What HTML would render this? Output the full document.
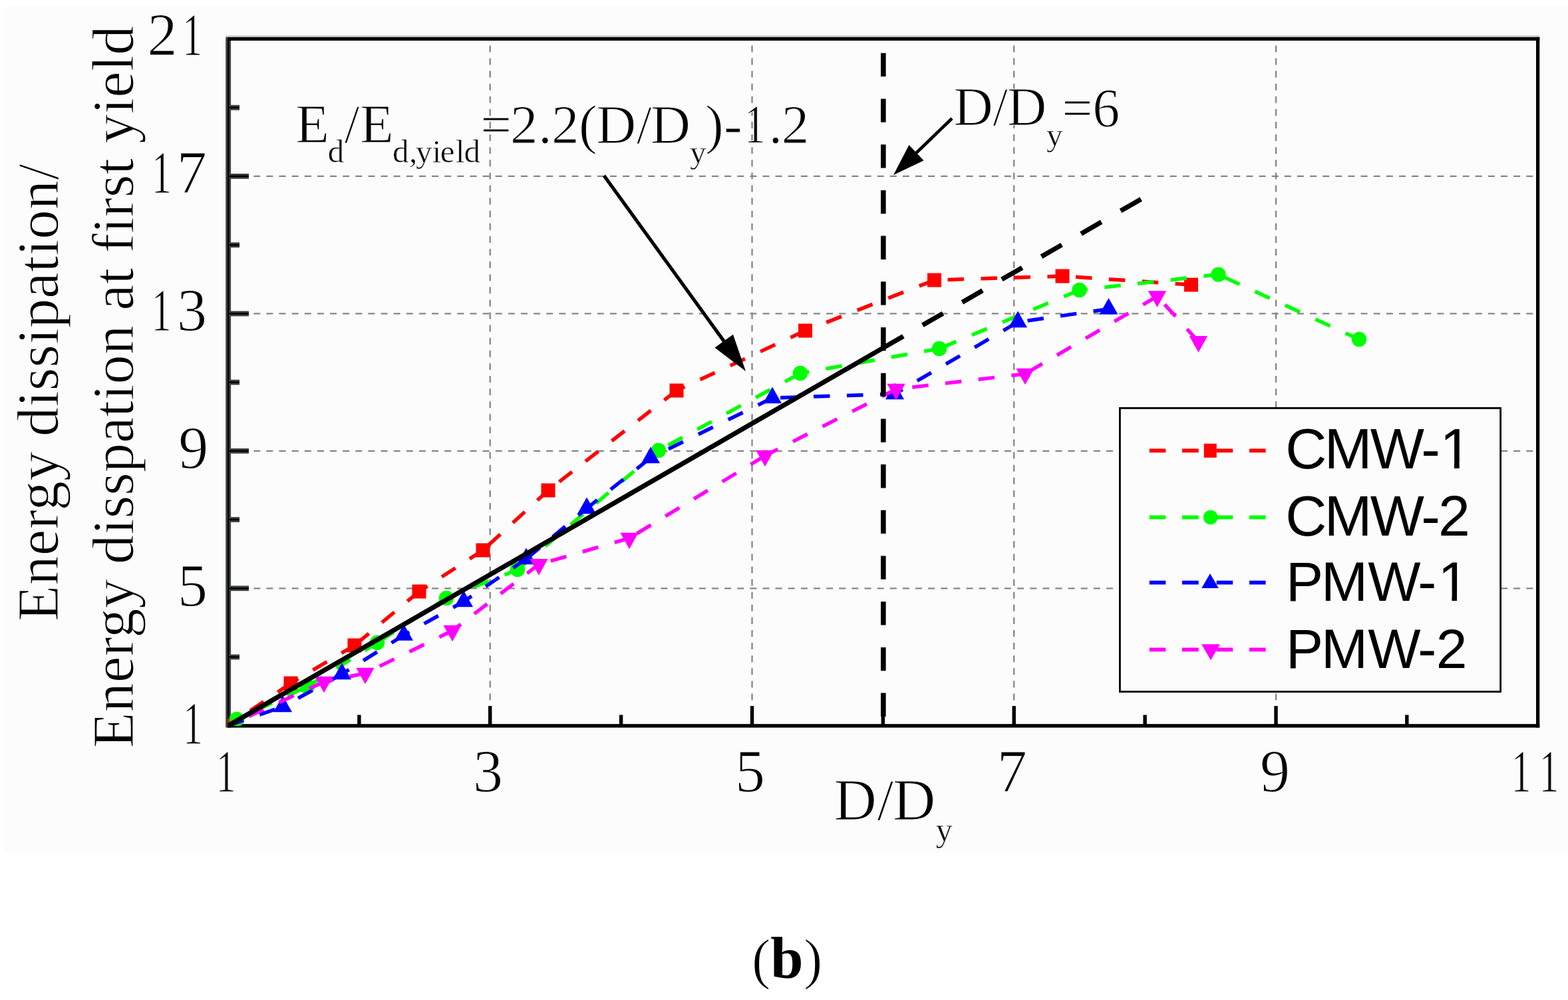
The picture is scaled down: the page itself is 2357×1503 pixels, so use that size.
<!DOCTYPE html>
<html><head><meta charset="utf-8"><title>Energy dissipation chart</title>
<style>
html,body{margin:0;padding:0;background:#fff;}
body{width:2357px;height:1503px;overflow:hidden;}
svg{display:block;}
.e{stroke:#fcfcfc;stroke-width:1.2px;}
.e2{stroke:#fcfcfc;stroke-width:0.6px;}
.e4{stroke:#fcfcfc;stroke-width:1.4px;}
.e3{stroke:#fff;stroke-width:1.2px;}
</style></head>
<body>
<svg width="2357" height="1503" viewBox="0 0 2357 1503">
<rect width="2357" height="1503" fill="#fff"/>
<rect x="6" y="9" width="2351" height="1272" fill="#fcfcfc"/>
<line x1="736.7" y1="1090.7" x2="736.7" y2="61" stroke="#858585" stroke-width="2.3" stroke-dasharray="10 9.1"/>
<line x1="1130.5" y1="1090.7" x2="1130.5" y2="61" stroke="#858585" stroke-width="2.3" stroke-dasharray="10 9.1"/>
<line x1="1524.2" y1="1090.7" x2="1524.2" y2="61" stroke="#858585" stroke-width="2.3" stroke-dasharray="10 9.1"/>
<line x1="1918.0" y1="1090.7" x2="1918.0" y2="61" stroke="#858585" stroke-width="2.3" stroke-dasharray="10 9.1"/>
<line x1="343" y1="884.3" x2="2309" y2="884.3" stroke="#858585" stroke-width="2.3" stroke-dasharray="10 9.13"/>
<line x1="343" y1="677.8" x2="2309" y2="677.8" stroke="#858585" stroke-width="2.3" stroke-dasharray="10 9.13"/>
<line x1="343" y1="471.4" x2="2309" y2="471.4" stroke="#858585" stroke-width="2.3" stroke-dasharray="10 9.13"/>
<line x1="343" y1="264.9" x2="2309" y2="264.9" stroke="#858585" stroke-width="2.3" stroke-dasharray="10 9.13"/>
<rect x="339.2" y="56" width="7.9" height="1037.5" fill="#3f4340"/>
<rect x="342" y="56" width="2.5" height="1037.5" fill="#000"/>
<rect x="339.2" y="53.4" width="1975" height="2.6" fill="#c4c4c4"/>
<rect x="342" y="55.9" width="1972.3" height="5.2" fill="#000"/>
<rect x="342" y="1088.2" width="1972.3" height="5.4" fill="#000"/>
<rect x="2309" y="55.9" width="5.3" height="1037.7" fill="#000"/>
<rect x="344" y="983.6" width="16" height="7.8" fill="#3c4046"/>
<rect x="344" y="986.2" width="16" height="2.6" fill="#000"/>
<rect x="344" y="880.4" width="30" height="7.8" fill="#3c4046"/>
<rect x="344" y="883.0" width="30" height="2.6" fill="#000"/>
<rect x="344" y="777.1" width="16" height="7.8" fill="#3c4046"/>
<rect x="344" y="779.7" width="16" height="2.6" fill="#000"/>
<rect x="344" y="673.9" width="30" height="7.8" fill="#3c4046"/>
<rect x="344" y="676.5" width="30" height="2.6" fill="#000"/>
<rect x="344" y="570.7" width="16" height="7.8" fill="#3c4046"/>
<rect x="344" y="573.3" width="16" height="2.6" fill="#000"/>
<rect x="344" y="467.5" width="30" height="7.8" fill="#3c4046"/>
<rect x="344" y="470.1" width="30" height="2.6" fill="#000"/>
<rect x="344" y="364.3" width="16" height="7.8" fill="#3c4046"/>
<rect x="344" y="366.9" width="16" height="2.6" fill="#000"/>
<rect x="344" y="261.0" width="30" height="7.8" fill="#3c4046"/>
<rect x="344" y="263.6" width="30" height="2.6" fill="#000"/>
<rect x="344" y="157.8" width="16" height="7.8" fill="#3c4046"/>
<rect x="344" y="160.4" width="16" height="2.6" fill="#000"/>
<rect x="537.2" y="1074.5" width="5.4" height="14.5" fill="#000"/>
<rect x="734.0" y="1061.1" width="5.4" height="27.9" fill="#000"/>
<rect x="930.9" y="1074.5" width="5.4" height="14.5" fill="#000"/>
<rect x="1127.8" y="1061.1" width="5.4" height="27.9" fill="#000"/>
<rect x="1324.6" y="1074.5" width="5.4" height="14.5" fill="#000"/>
<rect x="1521.5" y="1061.1" width="5.4" height="27.9" fill="#000"/>
<rect x="1718.4" y="1074.5" width="5.4" height="14.5" fill="#000"/>
<rect x="1915.3" y="1061.1" width="5.4" height="27.9" fill="#000"/>
<rect x="2112.1" y="1074.5" width="5.4" height="14.5" fill="#000"/>
<defs><clipPath id="pc"><rect x="342" y="58" width="1970" height="1033"/></clipPath></defs>
<g clip-path="url(#pc)">
<line x1="343" y1="1090.7" x2="437" y2="1027.0" stroke="#ff0000" stroke-width="5.5" stroke-dasharray="24.5 25.5" stroke-dashoffset="10.10"/>
<line x1="437" y1="1027.0" x2="533" y2="970.0" stroke="#ff0000" stroke-width="5.5" stroke-dasharray="24.5 25.5" stroke-dashoffset="11.20"/>
<line x1="533" y1="970.0" x2="630" y2="889.0" stroke="#ff0000" stroke-width="5.5" stroke-dasharray="24.5 25.5" stroke-dashoffset="46.50"/>
<line x1="630" y1="889.0" x2="726" y2="827.0" stroke="#ff0000" stroke-width="5.5" stroke-dasharray="24.5 25.5" stroke-dashoffset="9.50"/>
<line x1="726" y1="827.0" x2="824" y2="737.0" stroke="#ff0000" stroke-width="5.5" stroke-dasharray="24.5 25.5" stroke-dashoffset="39.00"/>
<line x1="824" y1="737.0" x2="1017" y2="587.0" stroke="#ff0000" stroke-width="5.5" stroke-dasharray="24.5 25.5" stroke-dashoffset="29.00"/>
<line x1="1017" y1="587.0" x2="1210.5" y2="497.0" stroke="#ff0000" stroke-width="5.5" stroke-dasharray="24.5 25.5" stroke-dashoffset="11.00"/>
<line x1="1210.5" y1="497.0" x2="1404.5" y2="421.0" stroke="#ff0000" stroke-width="5.5" stroke-dasharray="24.5 25.5" stroke-dashoffset="16.00"/>
<line x1="1404.5" y1="421.0" x2="1597" y2="415.0" stroke="#ff0000" stroke-width="5.5" stroke-dasharray="24.5 25.5" stroke-dashoffset="30.00"/>
<line x1="1597" y1="415.0" x2="1790.5" y2="428.0" stroke="#ff0000" stroke-width="5.5" stroke-dasharray="24.5 25.5" stroke-dashoffset="30.00"/>
<rect x="332.5" y="1080.2" width="21" height="21" fill="#ff0000"/>
<rect x="426.5" y="1016.5" width="21" height="21" fill="#ff0000"/>
<rect x="522.5" y="959.5" width="21" height="21" fill="#ff0000"/>
<rect x="619.5" y="878.5" width="21" height="21" fill="#ff0000"/>
<rect x="715.5" y="816.5" width="21" height="21" fill="#ff0000"/>
<rect x="813.5" y="726.5" width="21" height="21" fill="#ff0000"/>
<rect x="1006.5" y="576.5" width="21" height="21" fill="#ff0000"/>
<rect x="1200.0" y="486.5" width="21" height="21" fill="#ff0000"/>
<rect x="1394.0" y="410.5" width="21" height="21" fill="#ff0000"/>
<rect x="1586.5" y="404.5" width="21" height="21" fill="#ff0000"/>
<rect x="1780.0" y="417.5" width="21" height="21" fill="#ff0000"/>
<line x1="343" y1="1090.7" x2="356" y2="1081.0" stroke="#00ff00" stroke-width="5.5" stroke-dasharray="24.5 25.5" stroke-dashoffset="0.00"/>
<line x1="356" y1="1081.0" x2="462" y2="1032.0" stroke="#00ff00" stroke-width="5.5" stroke-dasharray="24.5 25.5" stroke-dashoffset="16.22"/>
<line x1="462" y1="1032.0" x2="567" y2="966.0" stroke="#00ff00" stroke-width="5.5" stroke-dasharray="24.5 25.5" stroke-dashoffset="48.00"/>
<line x1="567" y1="966.0" x2="671" y2="899.0" stroke="#00ff00" stroke-width="5.5" stroke-dasharray="24.5 25.5" stroke-dashoffset="45.20"/>
<line x1="671" y1="899.0" x2="778" y2="856.0" stroke="#00ff00" stroke-width="5.5" stroke-dasharray="24.5 25.5" stroke-dashoffset="5.80"/>
<line x1="778" y1="856.0" x2="990" y2="677.0" stroke="#00ff00" stroke-width="5.5" stroke-dasharray="24.5 25.5" stroke-dashoffset="45.50"/>
<line x1="990" y1="677.0" x2="1203" y2="561.0" stroke="#00ff00" stroke-width="5.5" stroke-dasharray="24.5 25.5" stroke-dashoffset="33.70"/>
<line x1="1203" y1="561.0" x2="1412" y2="524.0" stroke="#00ff00" stroke-width="5.5" stroke-dasharray="24.5 25.5" stroke-dashoffset="11.00"/>
<line x1="1412" y1="524.0" x2="1622.5" y2="436.0" stroke="#00ff00" stroke-width="5.5" stroke-dasharray="24.5 25.5" stroke-dashoffset="47.00"/>
<line x1="1622.5" y1="436.0" x2="1831.5" y2="412.6" stroke="#00ff00" stroke-width="5.5" stroke-dasharray="24.5 25.5" stroke-dashoffset="12.00"/>
<line x1="1831.5" y1="412.6" x2="2043" y2="510.0" stroke="#00ff00" stroke-width="5.5" stroke-dasharray="24.5 25.5" stroke-dashoffset="39.50"/>
<circle cx="356" cy="1081" r="11.2" fill="#00ff00"/>
<circle cx="462" cy="1032" r="11.2" fill="#00ff00"/>
<circle cx="567" cy="966" r="11.2" fill="#00ff00"/>
<circle cx="671" cy="899" r="11.2" fill="#00ff00"/>
<circle cx="778" cy="856" r="11.2" fill="#00ff00"/>
<circle cx="990" cy="677" r="11.2" fill="#00ff00"/>
<circle cx="1203" cy="561" r="11.2" fill="#00ff00"/>
<circle cx="1412" cy="524" r="11.2" fill="#00ff00"/>
<circle cx="1622.5" cy="436" r="11.2" fill="#00ff00"/>
<circle cx="1831.5" cy="412.6" r="11.2" fill="#00ff00"/>
<circle cx="2043" cy="510" r="11.2" fill="#00ff00"/>
<line x1="343" y1="1090.7" x2="425" y2="1062.1" stroke="#0000ff" stroke-width="5.5" stroke-dasharray="24.5 25.5" stroke-dashoffset="0.00"/>
<line x1="425" y1="1062.1" x2="514" y2="1013.1" stroke="#0000ff" stroke-width="5.5" stroke-dasharray="24.5 25.5" stroke-dashoffset="23.60"/>
<line x1="514" y1="1013.1" x2="607" y2="954.6" stroke="#0000ff" stroke-width="5.5" stroke-dasharray="24.5 25.5" stroke-dashoffset="12.00"/>
<line x1="607" y1="954.6" x2="697" y2="904.1" stroke="#0000ff" stroke-width="5.5" stroke-dasharray="24.5 25.5" stroke-dashoffset="15.00"/>
<line x1="697" y1="904.1" x2="791" y2="840.1" stroke="#0000ff" stroke-width="5.5" stroke-dasharray="24.5 25.5" stroke-dashoffset="10.00"/>
<line x1="791" y1="840.1" x2="882" y2="764.1" stroke="#0000ff" stroke-width="5.5" stroke-dasharray="24.5 25.5" stroke-dashoffset="48.00"/>
<line x1="882" y1="764.1" x2="978" y2="688.1" stroke="#0000ff" stroke-width="5.5" stroke-dasharray="24.5 25.5" stroke-dashoffset="4.10"/>
<line x1="978" y1="688.1" x2="1161" y2="598.1" stroke="#0000ff" stroke-width="5.5" stroke-dasharray="24.5 25.5" stroke-dashoffset="20.00"/>
<line x1="1161" y1="598.1" x2="1345" y2="592.1" stroke="#0000ff" stroke-width="5.5" stroke-dasharray="24.5 25.5" stroke-dashoffset="38.00"/>
<line x1="1345" y1="592.1" x2="1530" y2="484.1" stroke="#0000ff" stroke-width="5.5" stroke-dasharray="24.5 25.5" stroke-dashoffset="11.00"/>
<line x1="1530" y1="484.1" x2="1666.5" y2="464.4" stroke="#0000ff" stroke-width="5.5" stroke-dasharray="24.5 25.5" stroke-dashoffset="35.30"/>
<polygon points="425.0,1045.6 439.0,1070.3 411.0,1070.3" fill="#0000ff"/>
<polygon points="514.0,996.6 528.0,1021.3 500.0,1021.3" fill="#0000ff"/>
<polygon points="607.0,938.1 621.0,962.8 593.0,962.8" fill="#0000ff"/>
<polygon points="697.0,887.6 711.0,912.3 683.0,912.3" fill="#0000ff"/>
<polygon points="791.0,823.6 805.0,848.3 777.0,848.3" fill="#0000ff"/>
<polygon points="882.0,747.6 896.0,772.3 868.0,772.3" fill="#0000ff"/>
<polygon points="978.0,671.6 992.0,696.3 964.0,696.3" fill="#0000ff"/>
<polygon points="1161.0,581.6 1175.0,606.3 1147.0,606.3" fill="#0000ff"/>
<polygon points="1345.0,575.6 1359.0,600.3 1331.0,600.3" fill="#0000ff"/>
<polygon points="1530.0,467.6 1544.0,492.3 1516.0,492.3" fill="#0000ff"/>
<polygon points="1666.5,447.9 1680.5,472.6 1652.5,472.6" fill="#0000ff"/>
<line x1="343" y1="1090.7" x2="487" y2="1024.9" stroke="#ff00ff" stroke-width="5.5" stroke-dasharray="24.5 25.5" stroke-dashoffset="16.00"/>
<line x1="487" y1="1024.9" x2="549" y2="1011.9" stroke="#ff00ff" stroke-width="5.5" stroke-dasharray="24.5 25.5" stroke-dashoffset="10.50"/>
<line x1="549" y1="1011.9" x2="680" y2="947.9" stroke="#ff00ff" stroke-width="5.5" stroke-dasharray="24.5 25.5" stroke-dashoffset="26.00"/>
<line x1="680" y1="947.9" x2="810" y2="848.3" stroke="#ff00ff" stroke-width="5.5" stroke-dasharray="24.5 25.5" stroke-dashoffset="8.50"/>
<line x1="810" y1="848.3" x2="946" y2="808.9" stroke="#ff00ff" stroke-width="5.5" stroke-dasharray="24.5 25.5" stroke-dashoffset="31.50"/>
<line x1="946" y1="808.9" x2="1150" y2="684.9" stroke="#ff00ff" stroke-width="5.5" stroke-dasharray="24.5 25.5" stroke-dashoffset="36.50"/>
<line x1="1150" y1="684.9" x2="1347" y2="584.9" stroke="#ff00ff" stroke-width="5.5" stroke-dasharray="24.5 25.5" stroke-dashoffset="3.00"/>
<line x1="1347" y1="584.9" x2="1541" y2="561.9" stroke="#ff00ff" stroke-width="5.5" stroke-dasharray="24.5 25.5" stroke-dashoffset="25.50"/>
<line x1="1541" y1="561.9" x2="1739.5" y2="445.4" stroke="#ff00ff" stroke-width="5.5" stroke-dasharray="24.5 25.5" stroke-dashoffset="44.50"/>
<line x1="1739.5" y1="445.4" x2="1801.5" y2="513.3" stroke="#ff00ff" stroke-width="5.5" stroke-dasharray="24.5 25.5" stroke-dashoffset="33.50"/>
<polygon points="473.4,1016.7 500.6,1016.7 487.0,1041.3" fill="#ff00ff"/>
<polygon points="535.4,1003.7 562.6,1003.7 549.0,1028.3" fill="#ff00ff"/>
<polygon points="666.4,939.7 693.6,939.7 680.0,964.3" fill="#ff00ff"/>
<polygon points="796.4,840.1 823.6,840.1 810.0,864.7" fill="#ff00ff"/>
<polygon points="932.4,800.7 959.6,800.7 946.0,825.3" fill="#ff00ff"/>
<polygon points="1136.3,676.7 1163.7,676.7 1150.0,701.3" fill="#ff00ff"/>
<polygon points="1333.3,576.7 1360.7,576.7 1347.0,601.3" fill="#ff00ff"/>
<polygon points="1527.3,553.7 1554.7,553.7 1541.0,578.3" fill="#ff00ff"/>
<polygon points="1725.8,437.2 1753.2,437.2 1739.5,461.8" fill="#ff00ff"/>
<polygon points="1787.8,505.1 1815.2,505.1 1801.5,529.7" fill="#ff00ff"/>
<line x1="343.0" y1="1090.7" x2="1327.3" y2="523.0" stroke="#000" stroke-width="7.2"/>
<line x1="1327.3" y1="523.0" x2="1715.2" y2="299.3" stroke="#000" stroke-width="7.2" stroke-dasharray="35.3 33.44"/>
</g>
<line x1="1327.8" y1="79.8" x2="1327.8" y2="1088" stroke="#000" stroke-width="7.6" stroke-dasharray="35.3 33.4"/>
<line x1="908" y1="264" x2="1089.3" y2="514.3" stroke="#000" stroke-width="5.2"/><polygon points="1121,558 1074.4,522.6 1101.9,502.7" fill="#000"/>
<line x1="1431" y1="178" x2="1376.1" y2="231.0" stroke="#000" stroke-width="4.6"/><polygon points="1343,263 1366.4,218.1 1388.6,241.2" fill="#000"/>
<rect x="1683.4" y="613.4" width="572.2" height="426.2" fill="#fcfcfc" stroke="#000" stroke-width="2.8"/>
<line x1="1727.8" y1="677.3" x2="1752.3" y2="677.3" stroke="#ff0000" stroke-width="5.8"/>
<line x1="1776.9" y1="677.3" x2="1801.7" y2="677.3" stroke="#ff0000" stroke-width="5.8"/>
<line x1="1828.7" y1="677.3" x2="1853.2" y2="677.3" stroke="#ff0000" stroke-width="5.8"/>
<line x1="1878" y1="677.3" x2="1902.6" y2="677.3" stroke="#ff0000" stroke-width="5.8"/>
<rect x="1809.8" y="666.8" width="19" height="21" fill="#ff0000"/>
<text x="1932.2" y="704.0" font-family="'Liberation Sans',Arial,sans-serif" font-size="86">C</text>
<text x="1990.8" y="704.0" font-family="'Liberation Sans',Arial,sans-serif" font-size="86">M</text>
<text x="2059.7" y="704.0" font-family="'Liberation Sans',Arial,sans-serif" font-size="86">W</text>
<text x="2136.2" y="704.0" font-family="'Liberation Sans',Arial,sans-serif" font-size="86">-</text>
<clipPath id="one1"><rect x="2159.4" y="618.0" width="86.0" height="78.1"/><rect x="2185.9" y="695.6" width="7.8" height="10.4"/></clipPath><text x="2164.4" y="704" font-family="'Liberation Sans',Arial,sans-serif" font-size="86" clip-path="url(#one1)">1</text>
<line x1="1727.8" y1="777.5" x2="1752.3" y2="777.5" stroke="#00ff00" stroke-width="5.8"/>
<line x1="1776.9" y1="777.5" x2="1801.7" y2="777.5" stroke="#00ff00" stroke-width="5.8"/>
<line x1="1828.7" y1="777.5" x2="1853.2" y2="777.5" stroke="#00ff00" stroke-width="5.8"/>
<line x1="1878" y1="777.5" x2="1902.6" y2="777.5" stroke="#00ff00" stroke-width="5.8"/>
<circle cx="1819.7" cy="777.5" r="10.8" fill="#00ff00"/>
<text x="1932.2" y="805.0" font-family="'Liberation Sans',Arial,sans-serif" font-size="86">C</text>
<text x="1990.8" y="805.0" font-family="'Liberation Sans',Arial,sans-serif" font-size="86">M</text>
<text x="2059.7" y="805.0" font-family="'Liberation Sans',Arial,sans-serif" font-size="86">W</text>
<text x="2136.2" y="805.0" font-family="'Liberation Sans',Arial,sans-serif" font-size="86">-</text>
<text x="2162.1" y="805.0" font-family="'Liberation Sans',Arial,sans-serif" font-size="86">2</text>
<line x1="1727.8" y1="875.6" x2="1752.3" y2="875.6" stroke="#0000ff" stroke-width="5.8"/>
<line x1="1776.9" y1="875.6" x2="1801.7" y2="875.6" stroke="#0000ff" stroke-width="5.8"/>
<line x1="1828.7" y1="875.6" x2="1853.2" y2="875.6" stroke="#0000ff" stroke-width="5.8"/>
<line x1="1878" y1="875.6" x2="1902.6" y2="875.6" stroke="#0000ff" stroke-width="5.8"/>
<polygon points="1819.0,862.1 1831.8,883.9 1806.2,883.9" fill="#0000ff"/>
<text x="1933.1" y="903.0" font-family="'Liberation Sans',Arial,sans-serif" font-size="84">P</text>
<text x="1986.0" y="903.0" font-family="'Liberation Sans',Arial,sans-serif" font-size="84">M</text>
<text x="2056.2" y="903.0" font-family="'Liberation Sans',Arial,sans-serif" font-size="84">W</text>
<text x="2131.2" y="903.0" font-family="'Liberation Sans',Arial,sans-serif" font-size="84">-</text>
<clipPath id="one2"><rect x="2156.4" y="819.0" width="84.0" height="76.2"/><rect x="2182.4" y="894.7" width="7.6" height="10.3"/></clipPath><text x="2161.4" y="903" font-family="'Liberation Sans',Arial,sans-serif" font-size="84" clip-path="url(#one2)">1</text>
<line x1="1727.8" y1="976.4" x2="1752.3" y2="976.4" stroke="#ff00ff" stroke-width="5.8"/>
<line x1="1776.9" y1="976.4" x2="1801.7" y2="976.4" stroke="#ff00ff" stroke-width="5.8"/>
<line x1="1828.7" y1="976.4" x2="1853.2" y2="976.4" stroke="#ff00ff" stroke-width="5.8"/>
<line x1="1878" y1="976.4" x2="1902.6" y2="976.4" stroke="#ff00ff" stroke-width="5.8"/>
<polygon points="1806.1,968.2 1833.9,968.2 1820.0,992.2" fill="#ff00ff"/>
<text x="1933.1" y="1003.5" font-family="'Liberation Sans',Arial,sans-serif" font-size="84">P</text>
<text x="1986.0" y="1003.5" font-family="'Liberation Sans',Arial,sans-serif" font-size="84">M</text>
<text x="2056.2" y="1003.5" font-family="'Liberation Sans',Arial,sans-serif" font-size="84">W</text>
<text x="2131.2" y="1003.5" font-family="'Liberation Sans',Arial,sans-serif" font-size="84">-</text>
<text x="2158.8" y="1003.5" font-family="'Liberation Sans',Arial,sans-serif" font-size="84">2</text>
<text class="e" x="221.5" y="82.9" font-family="'Liberation Serif','Times New Roman',serif" font-size="90">2</text>
<text class="e" x="266.1" y="82.9" font-family="'Liberation Serif','Times New Roman',serif" font-size="90" transform="matrix(0.66 0 0 1 98.57 0)">1</text>
<text class="e" x="219.9" y="289.9" font-family="'Liberation Serif','Times New Roman',serif" font-size="90" transform="matrix(0.66 0 0 1 82.86 0)">1</text>
<text class="e" x="265.7" y="289.9" font-family="'Liberation Serif','Times New Roman',serif" font-size="90">7</text>
<text class="e" x="219.7" y="496.9" font-family="'Liberation Serif','Times New Roman',serif" font-size="90" transform="matrix(0.66 0 0 1 82.79 0)">1</text>
<text class="e" x="266.0" y="496.9" font-family="'Liberation Serif','Times New Roman',serif" font-size="90">3</text>
<text class="e" x="268.2" y="703.8" font-family="'Liberation Serif','Times New Roman',serif" font-size="90">9</text>
<text class="e" x="266.9" y="910.8" font-family="'Liberation Serif','Times New Roman',serif" font-size="90">5</text>
<text class="e" x="266.9" y="1117.8" font-family="'Liberation Serif','Times New Roman',serif" font-size="90" transform="matrix(0.66 0 0 1 98.84 0)">1</text>
<text class="e" x="316.7" y="1190.0" font-family="'Liberation Serif','Times New Roman',serif" font-size="90" transform="matrix(0.66 0 0 1 115.77 0)">1</text>
<text class="e" x="711.1" y="1190.0" font-family="'Liberation Serif','Times New Roman',serif" font-size="90">3</text>
<text class="e" x="1105.0" y="1190.0" font-family="'Liberation Serif','Times New Roman',serif" font-size="90">5</text>
<text class="e" x="1498.8" y="1190.0" font-family="'Liberation Serif','Times New Roman',serif" font-size="90">7</text>
<text class="e" x="1894.1" y="1190.0" font-family="'Liberation Serif','Times New Roman',serif" font-size="90">9</text>
<text class="e" x="2263.7" y="1190.0" font-family="'Liberation Serif','Times New Roman',serif" font-size="90" transform="matrix(0.66 0 0 1 777.75 0)">1</text>
<text class="e" x="2305.7" y="1190.0" font-family="'Liberation Serif','Times New Roman',serif" font-size="90" transform="matrix(0.66 0 0 1 792.03 0)">1</text>
<text class="e" x="1253.4 1341.9" y="1232.3" font-family="'Liberation Serif','Times New Roman',serif" font-size="89">DD</text>
<text class="e4" x="1318.4" y="1232.3" font-family="'Liberation Serif','Times New Roman',serif" font-size="89">/</text>
<text class="e2" x="1406.7" y="1264.3" font-family="'Liberation Serif','Times New Roman',serif" font-size="50">y</text>
<text class="e" transform="translate(87.4,934) rotate(-90)" font-family="'Liberation Serif','Times New Roman',serif" font-size="89">Energy dissipation<tspan class="e4">/</tspan></text>
<text class="e" transform="translate(199.7,1124.5) rotate(-90)" font-family="'Liberation Serif','Times New Roman',serif" font-size="88.6">Energy disspation at first yield</text>
<text class="e" x="444.2" y="214" font-family="'Liberation Serif','Times New Roman',serif" font-size="83">E</text>
<text class="e2" x="492.7" y="243.5" font-family="'Liberation Serif','Times New Roman',serif" font-size="49">d</text>
<text class="e" x="540.9" y="214" font-family="'Liberation Serif','Times New Roman',serif" font-size="83">E</text>
<text class="e4" x="517.5" y="214" font-family="'Liberation Serif','Times New Roman',serif" font-size="83">/</text>
<text class="e2" x="589.9 615.0 625.0 649.7 661.7 684.9 697.6" y="243.5" font-family="'Liberation Serif','Times New Roman',serif" font-size="49">d,yield</text>
<text class="e" x="722.2 766.9 809.0 829.0 870.1 896.3 978.0" y="214.5" font-family="'Liberation Serif','Times New Roman',serif" font-size="83">=2.2(DD</text>
<text class="e4" x="956.8" y="214.5" font-family="'Liberation Serif','Times New Roman',serif" font-size="83">/</text>
<text class="e2" x="1037.0" y="244.5" font-family="'Liberation Serif','Times New Roman',serif" font-size="49">y</text>
<text class="e" x="1059.9 1088.1 1155.6 1174.7" y="214.5" font-family="'Liberation Serif','Times New Roman',serif" font-size="83">)-.2</text>
<text class="e" x="1113.7" y="214.5" font-family="'Liberation Serif','Times New Roman',serif" font-size="83" transform="matrix(0.75 0 0 1 283.91 0)">1</text>
<text class="e" x="1433.4 1514.0" y="188.2" font-family="'Liberation Serif','Times New Roman',serif" font-size="82">DD</text>
<text class="e4" x="1492.3" y="188.2" font-family="'Liberation Serif','Times New Roman',serif" font-size="82">/</text>
<text class="e2" x="1573.1" y="218.9" font-family="'Liberation Serif','Times New Roman',serif" font-size="49">y</text>
<text class="e" x="1596.3 1642.2" y="189.5" font-family="'Liberation Serif','Times New Roman',serif" font-size="82">=6</text>
<text x="1130.1" y="1470" font-family="'Liberation Serif','Times New Roman',serif" font-size="85" class="e3">(</text>
<text x="1158.2" y="1470" font-family="'Liberation Serif','Times New Roman',serif" font-size="88.5" font-weight="bold">b</text>
<text x="1208.0" y="1470" font-family="'Liberation Serif','Times New Roman',serif" font-size="85" class="e3">)</text>
</svg>
</body></html>
